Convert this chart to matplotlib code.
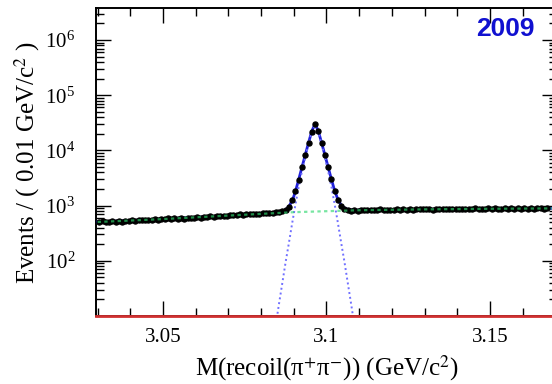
import numpy as np
import matplotlib
matplotlib.use('Agg')
import matplotlib.pyplot as plt
from matplotlib.ticker import MultipleLocator, LogLocator, NullFormatter

plt.rcParams['font.family'] = ['Liberation Serif', 'DejaVu Serif']
plt.rcParams['mathtext.fontset'] = 'stix'

# data: bin centres (0.001 GeV bins) and event counts
bin_start = 3.0305
bin_width = 0.001
counts = [498, 520, 505, 512, 530, 508, 522, 515, 535, 521,
          540, 528, 552, 545, 538, 560, 549, 571, 556, 563,
          568, 585, 574, 592, 580, 598, 583, 605, 590, 601,
          612, 598, 625, 618, 640, 628, 645, 636, 660, 650,
          668, 680, 672, 690, 684, 702, 695, 712, 700, 718,
          722, 728, 741, 735, 752, 768, 790, 848, 962, 1245,
          1830, 2950, 5000, 8350, 13600, 21800, 29800, 22300, 13800, 8300,
          5000, 3000, 1830, 1270, 1000, 885, 842, 810, 826, 808,
          832, 818, 845, 828, 838, 822, 850, 835, 842, 829,
          848, 860, 838, 855, 846, 868, 842, 858, 850, 872,
          851, 866, 845, 872, 858, 862, 880, 850, 868, 855,
          878, 862, 885, 868, 872, 890, 860, 882, 870, 888,
          872, 892, 868, 885, 898, 875, 890, 870, 905, 882,
          895, 878, 900, 886, 892, 910, 880, 898]

# background component (green dotted)
bkg_x = [3.03, 3.05, 3.07, 3.09, 3.11, 3.13, 3.15, 3.17]
bkg_y = [505, 570, 660, 760, 825, 855, 875, 890]

# signal component (blue dotted) around the peak
peak_pos = 3.0965
sig_offset = [-0.013, -0.012, -0.011, -0.010, -0.009, -0.008, -0.007, -0.006, -0.005, -0.004,
              -0.003, -0.002, -0.001, 0.0, 0.001, 0.002, 0.003, 0.004, 0.005, 0.006,
              0.007, 0.008, 0.009, 0.010, 0.011, 0.012, 0.013]
sig_y = [2.7, 7, 17, 40, 95, 210, 480, 1050, 2200, 4200,
         7500, 13000, 21500, 29500, 21500, 13000, 7500, 4200, 2200, 1050,
         480, 210, 95, 40, 17, 7, 2.7]

x = bin_start + bin_width * np.arange(len(counts))
sig_x = peak_pos + np.array(sig_offset)

# total = signal + background on a common grid
grid = np.union1d(np.array(bkg_x), sig_x)
sig_on_grid = np.interp(grid, sig_x, np.log(sig_y), left=-50, right=-50)
total = np.interp(grid, bkg_x, bkg_y) + np.exp(sig_on_grid)

fig = plt.figure(figsize=(5.52, 3.84), dpi=100)
ax = fig.add_axes([96/552, 68/384, 461/552, 308/384])

ax.plot(grid, total, color='#2020d8', lw=2.0, zorder=3)
ax.plot(sig_x, sig_y, color='#7070ff', lw=1.4, ls=(0, (1, 1.5)), zorder=4)
ax.errorbar(x, counts, yerr=np.sqrt(counts), fmt='o', color='black', ms=3.6,
            elinewidth=0.8, capsize=0, zorder=5)
ax.plot(bkg_x, bkg_y, color='#30d870', lw=1.6, ls=(0, (1.5, 1.5)), alpha=0.65, zorder=6)
ax.axhline(10, color='#d03030', lw=2, zorder=7, clip_on=False)

ax.set_yscale('log')
ax.set_xlim(3.0295, 3.1705)
ax.set_ylim(10, 3.8e6)

ax.xaxis.set_minor_locator(MultipleLocator(0.01))
ax.set_xticks([3.05, 3.1, 3.15])
ax.set_xticklabels(['3.05', '3.1', '3.15'])
ax.set_yticks([1e2, 1e3, 1e4, 1e5, 1e6])
ax.yaxis.set_minor_locator(LogLocator(base=10, subs=np.arange(2, 10), numticks=10))
ax.yaxis.set_minor_formatter(NullFormatter())
ax.tick_params(which='both', direction='in', top=True, right=True, labelsize=15, width=1)
ax.tick_params(which='major', length=11)
ax.tick_params(which='minor', length=6)
ax.tick_params(axis='x', pad=9)
ax.tick_params(axis='y', pad=15)
for s in ax.spines.values():
    s.set_linewidth(1.4)

ax.set_xlabel('M(recoil(π$^{+}$π$^{-}$)) (GeV/c$^{2}$)', fontsize=18, labelpad=4)
ax.set_ylabel('Events / ( 0.01 GeV/c$^{2}$ )', fontsize=18, labelpad=2)

ax.text(0.887, 0.932, '2009', transform=ax.transAxes, ha='center', va='center',
        fontsize=19, fontweight='bold', color='#1010d0', family=['Liberation Sans'])

fig.savefig('out.png', dpi=100)
